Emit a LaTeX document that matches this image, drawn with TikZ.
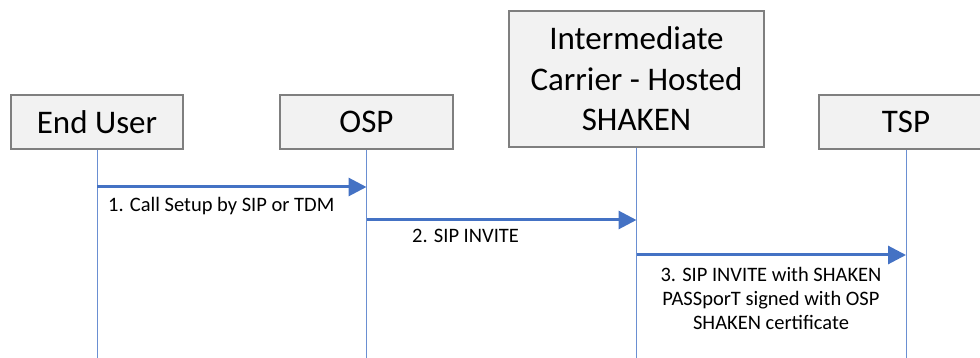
\documentclass[tikz,border=0pt]{standalone}
\usepackage{fontspec}
\setmainfont{Carlito}
\usetikzlibrary{arrows.meta}
\definecolor{boxfill}{HTML}{F2F2F2}
\definecolor{boxdraw}{HTML}{7F7F7F}
\definecolor{msgblue}{HTML}{4472C4}
\definecolor{lifeblue}{HTML}{6A8FD2}
\tikzset{
  actor/.style={draw=boxdraw, line width=1.1pt, fill=boxfill, inner sep=0pt,
    font=\fontsize{33}{40.5}\selectfont, align=center, text=black},
  lifeline/.style={draw=lifeblue, line width=1pt},
  msg/.style={draw=msgblue, line width=3pt,
    -{Triangle[length=18pt,width=18pt]}},
  msglabel/.style={inner sep=0pt, font=\fontsize{20.5}{24}\selectfont, text=black, align=center}
}
\begin{document}
\begin{tikzpicture}[x=1pt,y=-1pt]
\useasboundingbox (0,0) rectangle (980,358);
\clip (0,0) rectangle (980,358);
% actors
\node[actor, minimum width=172pt, minimum height=54pt] (eu) at (97,122) {End User};
\node[actor, minimum width=173pt, minimum height=54pt] (osp) at (366.5,122) {OSP};
\node[actor, minimum width=255pt, minimum height=136pt] (ic) at (636.5,79) {Intermediate\\Carrier - Hosted\\SHAKEN};
\node[actor, minimum width=174pt, minimum height=54pt] (tsp) at (906,122) {TSP};
% lifeline ends
\coordinate (euEnd) at (eu.south |- 0,360);
\coordinate (ospEnd) at (osp.south |- 0,360);
\coordinate (icEnd) at (ic.south |- 0,360);
\coordinate (tspEnd) at (tsp.south |- 0,360);
\draw[lifeline] (eu.south) -- (euEnd);
\draw[lifeline] (osp.south) -- (ospEnd);
\draw[lifeline] (ic.south) -- (icEnd);
\draw[lifeline] (tsp.south) -- (tspEnd);
% message points
\coordinate (m1a) at (eu.south |- 0,187);
\coordinate (m1b) at (osp.south |- 0,187);
\coordinate (m2a) at (osp.south |- 0,220);
\coordinate (m2b) at (ic.south |- 0,220);
\coordinate (m3a) at (ic.south |- 0,255);
\coordinate (m3b) at (tsp.south |- 0,255);
\draw[msg] (m1a) -- (m1b);
\draw[msg] (m2a) -- (m2b);
\draw[msg] (m3a) -- (m3b);
% labels
\node[msglabel, anchor=base west] (l1) at (108,212) {1. Call Setup by SIP or TDM};
\node[msglabel, anchor=base west] (l2) at (412,243) {2. SIP INVITE};
\node[msglabel, anchor=north] (l3) at (771,267) {3. SIP INVITE with SHAKEN\\PASSporT signed with OSP\\SHAKEN certificate};
\end{tikzpicture}
\end{document}
